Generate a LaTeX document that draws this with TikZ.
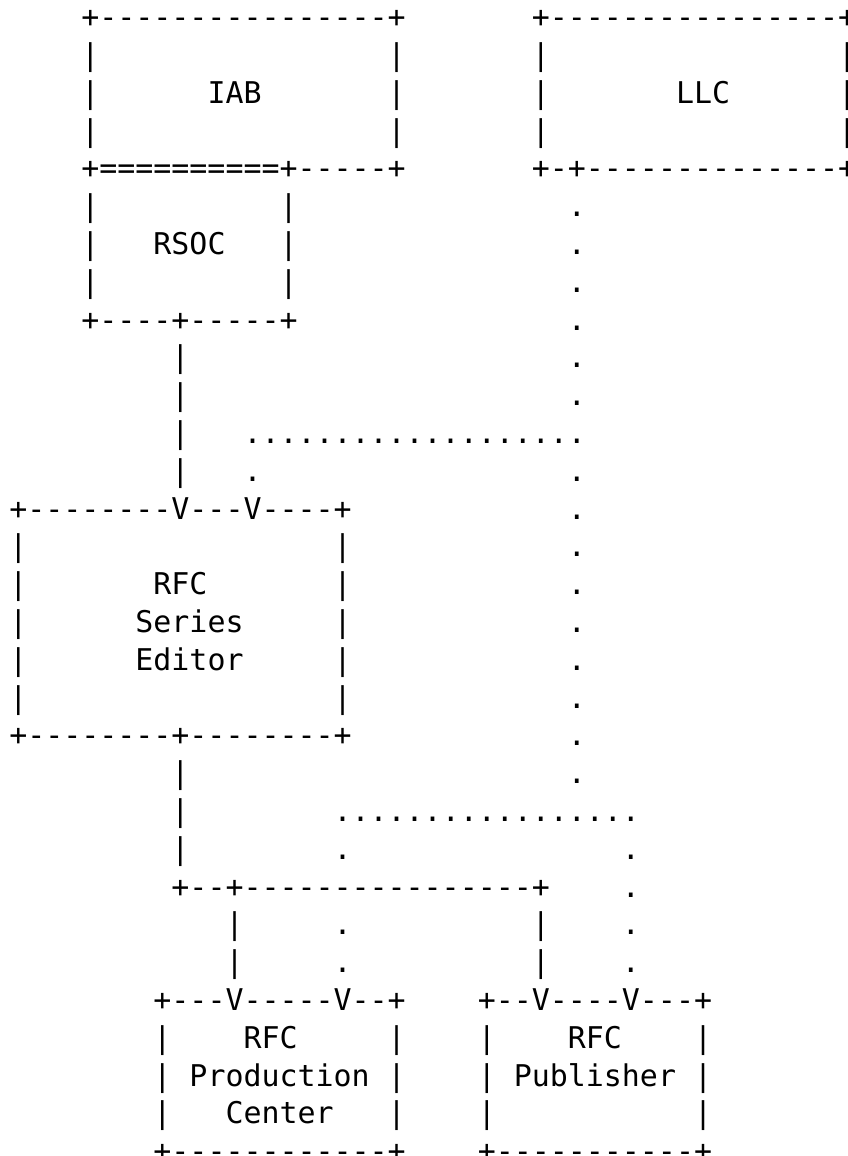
\documentclass[tikz,border=0pt]{standalone}
\usepackage{fontspec}
\setmonofont{DejaVu Sans Mono}
\tikzset{asc/.style={anchor=base west,inner sep=0pt,outer sep=0pt,font=\ttfamily\fontsize{29.93}{36}\selectfont}}
\newcommand\asciiseg[4]{\node[asc] (#1) at ({9.29+18.02*#2},{-27.7-37.8*(#3-1)}) {#4};}
\begin{document}
\begin{tikzpicture}[x=1pt,y=1pt]
\useasboundingbox (0,0) rectangle (848,-1156);
% IAB and LLC
\asciiseg{iabtop}{4}{1}{+----------------+}
\asciiseg{llctop}{29}{1}{+----------------+}
\foreach \r in {2,3,4}{
  \asciiseg{iabl\r}{4}{\r}{|}
  \asciiseg{iabr\r}{21}{\r}{|}
  \asciiseg{llcl\r}{29}{\r}{|}
  \asciiseg{llcr\r}{46}{\r}{|}
}
\asciiseg{iab}{11}{3}{IAB}
\asciiseg{llc}{37}{3}{LLC}
\asciiseg{iabbot}{4}{5}{+==========+-----+}
\asciiseg{llcbot}{29}{5}{+-+--------------+}
% RSOC
\foreach \r in {6,7,8}{
  \asciiseg{rsocl\r}{4}{\r}{|}
  \asciiseg{rsocr\r}{15}{\r}{|}
}
\asciiseg{rsoc}{8}{7}{RSOC}
\asciiseg{rsocbot}{4}{9}{+----+-----+}
% LLC dotted line down
\foreach \r in {6,...,11,13,14,...,21}{
  \asciiseg{llcdot\r}{31}{\r}{.}
}
\asciiseg{dotrow12}{13}{12}{...................}
\asciiseg{dot13}{13}{13}{.}
% RSOC to RSE
\foreach \r in {10,...,13}{
  \asciiseg{rsocline\r}{9}{\r}{|}
}
% RFC Series Editor
\asciiseg{rsetop}{0}{14}{+--------V---V----+}
\foreach \r in {15,...,19}{
  \asciiseg{rsel\r}{0}{\r}{|}
  \asciiseg{rser\r}{18}{\r}{|}
}
\asciiseg{rse1}{8}{16}{RFC}
\asciiseg{rse2}{7}{17}{Series}
\asciiseg{rse3}{7}{18}{Editor}
\asciiseg{rsebot}{0}{20}{+--------+--------+}
\foreach \r in {21,22,23}{
  \asciiseg{rseline\r}{9}{\r}{|}
}
\asciiseg{dotrow22}{18}{22}{.................}
\asciiseg{dot23a}{18}{23}{.}
\asciiseg{dot23b}{34}{23}{.}
\asciiseg{split}{9}{24}{+--+----------------+}
\asciiseg{dot24}{34}{24}{.}
\foreach \r in {25,26}{
  \asciiseg{pcl\r}{12}{\r}{|}
  \asciiseg{pcd\r}{18}{\r}{.}
  \asciiseg{publ\r}{29}{\r}{|}
  \asciiseg{pubd\r}{34}{\r}{.}
}
% RFC Production Center and RFC Publisher
\asciiseg{pctop}{8}{27}{+---V-----V--+}
\asciiseg{pubtop}{26}{27}{+--V----V---+}
\foreach \r in {28,29,30}{
  \asciiseg{pcbl\r}{8}{\r}{|}
  \asciiseg{pcbr\r}{21}{\r}{|}
  \asciiseg{pubbl\r}{26}{\r}{|}
  \asciiseg{pubbr\r}{38}{\r}{|}
}
\asciiseg{pc1}{13}{28}{RFC}
\asciiseg{pc2}{10}{29}{Production}
\asciiseg{pc3}{12}{30}{Center}
\asciiseg{pub1}{31}{28}{RFC}
\asciiseg{pub2}{28}{29}{Publisher}
\asciiseg{pcbot}{8}{31}{+------------+}
\asciiseg{pubbot}{26}{31}{+-----------+}
\end{tikzpicture}
\end{document}
